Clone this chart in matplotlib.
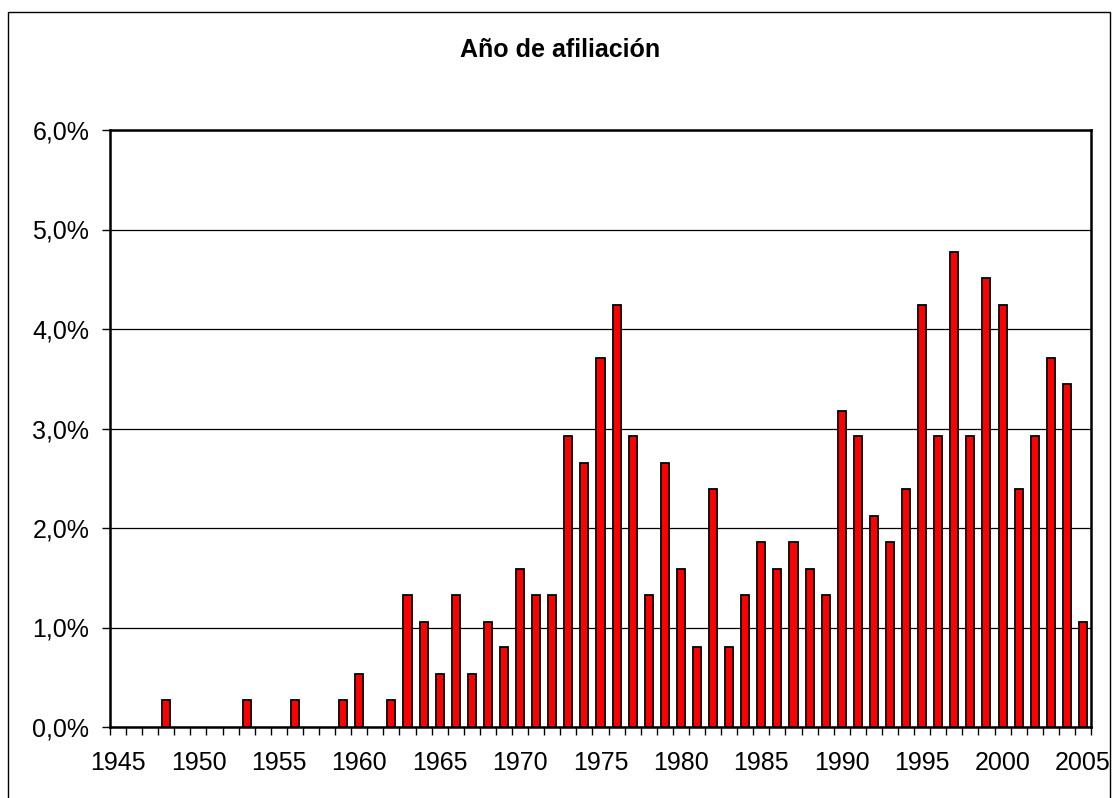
import numpy as np
import matplotlib.pyplot as plt
from matplotlib.ticker import FuncFormatter
from matplotlib.patches import Rectangle

plt.rcParams['font.family'] = ['Liberation Sans', 'DejaVu Sans']

# Años 1945-2005
years = list(range(1945, 2006))
# Porcentaje de afiliados por año (%)
pct = [0, 0, 0, 0.27, 0, 0, 0, 0, 0.27, 0,
       0, 0.27, 0, 0, 0.27, 0.53, 0, 0.27, 1.33, 1.06,
       0.53, 1.33, 0.53, 1.06, 0.80, 1.59, 1.33, 1.33, 2.92, 2.65,
       3.71, 4.24, 2.92, 1.33, 2.65, 1.59, 0.80, 2.39, 0.80, 1.33,
       1.86, 1.59, 1.86, 1.59, 1.33, 3.18, 2.92, 2.12, 1.86, 2.39,
       4.24, 2.92, 4.77, 2.92, 4.51, 4.24, 2.39, 2.92, 3.71, 3.45,
       1.06]
title = "Año de afiliación"

fig = plt.figure(figsize=(11.14, 7.98), dpi=100)
fig.patches.append(Rectangle((8 / 1114, -0.01), (1110 - 8) / 1114, (798 - 12) / 798 + 0.01,
                             transform=fig.transFigure, fill=False, edgecolor='black',
                             linewidth=1.0))

ax = fig.add_axes([110 / 1114, 71 / 798, (1091 - 110) / 1114, (727 - 130) / 798])

x = np.arange(len(years))
vals = np.array(pct)
nz = vals > 0  # las barras vacías no se dibujan
ax.bar(x[nz], vals[nz], width=0.5, color='#ff0000', edgecolor='black', linewidth=1.3, zorder=3)

ax.set_xlim(-0.5, len(years) - 0.5)
ax.set_ylim(0, 6)
ax.set_yticks(np.arange(0, 7, 1))
ax.yaxis.set_major_formatter(FuncFormatter(lambda v, p: f"{v:.1f}%".replace('.', ',')))
ax.yaxis.grid(True, color='black', linewidth=0.9, zorder=0)

# etiquetas cada 5 años, marcas entre categorías
lab_idx = [i for i, y in enumerate(years) if y % 5 == 0]
ax.set_xticks(lab_idx)
ax.set_xticklabels([str(years[i]) for i in lab_idx])
ax.set_xticks(np.arange(-0.5, len(years), 1), minor=True)
ax.tick_params(axis='x', which='major', length=0, pad=17, labelsize=18)
ax.tick_params(axis='x', which='minor', length=6, width=1, direction='out')
ax.tick_params(axis='y', length=6, width=1, pad=9, labelsize=18)

for s in ax.spines.values():
    s.set_linewidth(1.8)

fig.text(560 / 1114, 1 - 50 / 798, title, ha='center', va='center',
         fontsize=18, fontweight='bold')

fig.savefig('out.png', dpi=100)
